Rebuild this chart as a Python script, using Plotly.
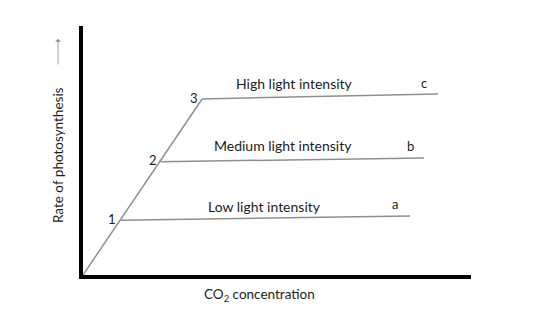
import plotly.graph_objects as go

# Data (CO2 concentration vs rate of photosynthesis, arbitrary units)
diag_x = [0.0, 3.07]
diag_y = [0.0, 7.07]

plateau_names = ["Low light intensity", "Medium light intensity", "High light intensity"]
plateau_start_x = [0.98, 2.0, 3.07]
plateau_start_y = [2.2, 4.55, 7.07]
plateau_end_x = [8.43, 8.79, 9.15]
plateau_end_y = [2.37, 4.70, 7.27]

point_labels = ["1", "2", "3"]
curve_letters = ["a", "b", "c"]

x_range = [0, 10]
y_range = [0, 10]

# label placement (layout only)
name_pos_x = [4.69, 5.15, 5.46]
name_pos_y = [2.77, 5.22, 7.71]
letter_pos_x = [8.04, 8.43, 8.79]
letter_pos_y = [2.85, 5.18, 7.71]
num_pos_x = [0.75, 1.80, 2.86]
num_pos_y = [2.25, 4.62, 7.11]

LINE = "#8f8f8f"
TEXT = "#1c1c1c"
FONT = "Lato"
FS = 14

fig = go.Figure()
fig.add_trace(go.Scatter(x=diag_x, y=diag_y, mode="lines",
                         line=dict(color=LINE, width=1.5), hoverinfo="skip"))
for i in range(3):
    fig.add_trace(go.Scatter(x=[plateau_start_x[i], plateau_end_x[i]],
                             y=[plateau_start_y[i], plateau_end_y[i]],
                             mode="lines", line=dict(color=LINE, width=1.5),
                             hoverinfo="skip"))

ann = []
for i in range(3):
    ann.append(dict(x=num_pos_x[i], y=num_pos_y[i], text=point_labels[i],
                    showarrow=False, xanchor="center", yanchor="middle",
                    font=dict(size=FS - 1, color=TEXT, family=FONT)))
    ann.append(dict(x=name_pos_x[i], y=name_pos_y[i], text=plateau_names[i],
                    showarrow=False, xanchor="center", yanchor="middle",
                    font=dict(size=FS, color=TEXT, family=FONT)))
    ann.append(dict(x=letter_pos_x[i], y=letter_pos_y[i], text=curve_letters[i],
                    showarrow=False, xanchor="center", yanchor="middle",
                    font=dict(size=FS - 1, color=TEXT, family=FONT)))

# axis titles
ann.append(dict(xref="paper", yref="paper", x=0.454, y=-0.08, text="CO<sub>2</sub> concentration",
                showarrow=False, xanchor="center", yanchor="middle",
                font=dict(size=FS - 0.5, color=TEXT, family=FONT)))
ann.append(dict(xref="paper", yref="paper", x=-0.0644, y=0.482, text="Rate of photosynthesis",
                showarrow=False, textangle=-90, xanchor="center", yanchor="middle",
                font=dict(size=FS - 0.5, color=TEXT, family=FONT)))
# arrow next to y title
ann.append(dict(xref="paper", yref="paper", x=-0.0644, y=0.948, text="",
                showarrow=True, ax=0, ay=27, arrowhead=1, arrowsize=1.2, arrowwidth=0.8,
                arrowcolor="#888888"))

fig.update_layout(
    width=533, height=317,
    margin=dict(l=83, r=62, t=26, b=42),
    paper_bgcolor="white", plot_bgcolor="white",
    showlegend=False,
    annotations=ann,
    xaxis=dict(range=x_range, showgrid=False, zeroline=False, showticklabels=False,
               ticks="", showline=True, linecolor="black", linewidth=4),
    yaxis=dict(range=y_range, showgrid=False, zeroline=False, showticklabels=False,
               ticks="", showline=True, linecolor="black", linewidth=4),
)

fig.write_html("out.html")
